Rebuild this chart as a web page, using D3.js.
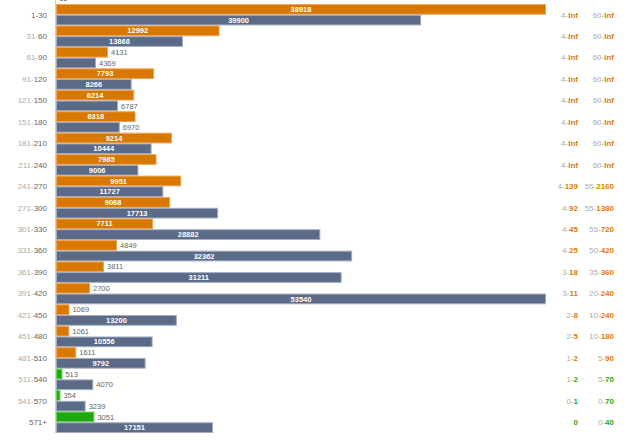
<!DOCTYPE html>
<html><head><meta charset="utf-8">
<script src="https://cdn.jsdelivr.net/npm/d3@7"></script>
<style>
html,body{margin:0;padding:0;background:#fff;overflow:hidden;}
svg{display:block;font-family:"Liberation Sans",Arial,Helvetica,sans-serif;}
</style></head>
<body>
<svg id="c" width="640" height="443"></svg>
<script>
// Row categories (the first row is cut off at the top of the picture)
const categories = ["", "1-30","31-60","61-90","91-120","121-150","151-180","181-210","211-240","241-270","271-300","301-330","331-360","361-390","391-420","421-450","451-480","481-510","511-540","541-570","571+"];
const orangeValues = [0, 38918,12992,4131,7793,6214,6318,9214,7985,9951,9068,7711,4849,3811,2700,1069,1061,1611,513,354,3051];
const blueValues = [16, 39900,13868,4369,8266,6787,6970,10444,9006,11727,17713,28882,32362,31211,53540,13200,10556,9792,4070,3239,17151];
const rangeA = ["", "4-Inf","4-Inf","4-Inf","4-Inf","4-Inf","4-Inf","4-Inf","4-Inf","4-139","4-92","4-45","4-25","3-18","3-11","2-8","2-5","1-2","1-2","0-1","0"];
const rangeB = ["", "60-Inf","60-Inf","60-Inf","60-Inf","60-Inf","60-Inf","60-Inf","60-Inf","55-2160","55-1380","55-720","50-420","35-360","20-240","10-240","10-180","5-90","5-70","0-70","0-40"];
const greenRows = ["511-540","541-570","571+"];

const ORANGE = "#d97800", ORANGE_S = "#eea45a";
const GREEN = "#1fa80f", GREEN_S = "#6ccf5f";
const BLUE = "#5a6a87", BLUE_S = "#a3adc0";

const svg = d3.select("#c");
const x0 = 56, x1 = 546;
const band = 21.45, topY = 4;
const y = d3.scaleBand().domain(d3.range(categories.length))
  .range([topY - band, topY - band + band * categories.length]).padding(0);
const xo = d3.scaleLinear().domain([0, d3.max(orangeValues)]).range([x0, x1]);
const xb = d3.scaleLinear().domain([0, d3.max(blueValues)]).range([x0, x1]);

const rows = categories.map((c, i) => ({c, i, o: orangeValues[i], b: blueValues[i], a: rangeA[i], r: rangeB[i], green: greenRows.includes(c)}));

// axis line
svg.append("line").attr("x1", 55.5).attr("x2", 55.5).attr("y1", 0).attr("y2", y(categories.length - 1) + band)
  .attr("stroke", "#ccc").attr("stroke-width", 1);

const g = svg.selectAll("g.row").data(rows).join("g").attr("class", "row");
const bh = band / 2;

function bar(sel, key, scale, fill, stroke, off) {
  sel.append("rect")
    .attr("x", x0 + 0.5)
    .attr("y", d => y(d.i) + off + 0.5)
    .attr("width", d => Math.max(0, scale(d[key]) - x0 - 1))
    .attr("height", bh - 1)
    .attr("fill", d => typeof fill === "function" ? fill(d) : fill)
    .attr("stroke", d => typeof stroke === "function" ? stroke(d) : stroke)
    .attr("stroke-width", 1);
  sel.append("text")
    .attr("x", d => { const w = scale(d[key]) - x0; return w > 70 ? (x0 + scale(d[key])) / 2 : scale(d[key]) + 3; })
    .attr("y", d => y(d.i) + off + bh / 2)
    .attr("dy", "0.35em")
    .attr("text-anchor", d => (scale(d[key]) - x0) > 70 ? "middle" : "start")
    .attr("fill", d => (scale(d[key]) - x0) > 70 ? "#fff" : "#666")
    .attr("font-size", 7.5)
    .attr("font-weight", d => (scale(d[key]) - x0) > 70 ? "bold" : "normal")
    .text(d => d[key]);
}
bar(g.filter(d => d.i > 0), "o", xo, d => d.green ? GREEN : ORANGE, d => d.green ? GREEN_S : ORANGE_S, 0);
bar(g, "b", xb, BLUE, BLUE_S, bh);

// left category labels
const lab = g.filter(d => d.i > 0).append("text")
  .attr("x", 47).attr("y", d => y(d.i) + band / 2).attr("dy", "0.35em")
  .attr("text-anchor", "end").attr("font-size", 8);
lab.each(function(d) {
  const t = d3.select(this);
  if (d.c.includes("-") && d.i !== 1) {
    const [p1, p2] = d.c.split("-");
    t.append("tspan").attr("fill", "#aaa").text(p1 + "-");
    t.append("tspan").attr("fill", "#666").text(p2);
  } else {
    t.append("tspan").attr("fill", "#666").text(d.c);
  }
});

// right range labels
function rangeLabel(key, xr) {
  g.filter(d => d.i > 0).append("text")
    .attr("x", xr).attr("y", d => y(d.i) + band / 2).attr("dy", "0.35em")
    .attr("text-anchor", "end").attr("font-size", 8)
    .each(function(d) {
      const t = d3.select(this);
      const s = d[key];
      const k = s.indexOf("-");
      const col = d.green ? GREEN : "#e07c00";
      if (k >= 0) {
        t.append("tspan").attr("fill", "#aaa").text(s.slice(0, k + 1));
        t.append("tspan").attr("fill", col).attr("font-weight", "bold").text(s.slice(k + 1));
      } else {
        t.append("tspan").attr("fill", col).attr("font-weight", "bold").text(s);
      }
    });
}
rangeLabel("a", 578);
rangeLabel("r", 614);
</script>
</body></html>
